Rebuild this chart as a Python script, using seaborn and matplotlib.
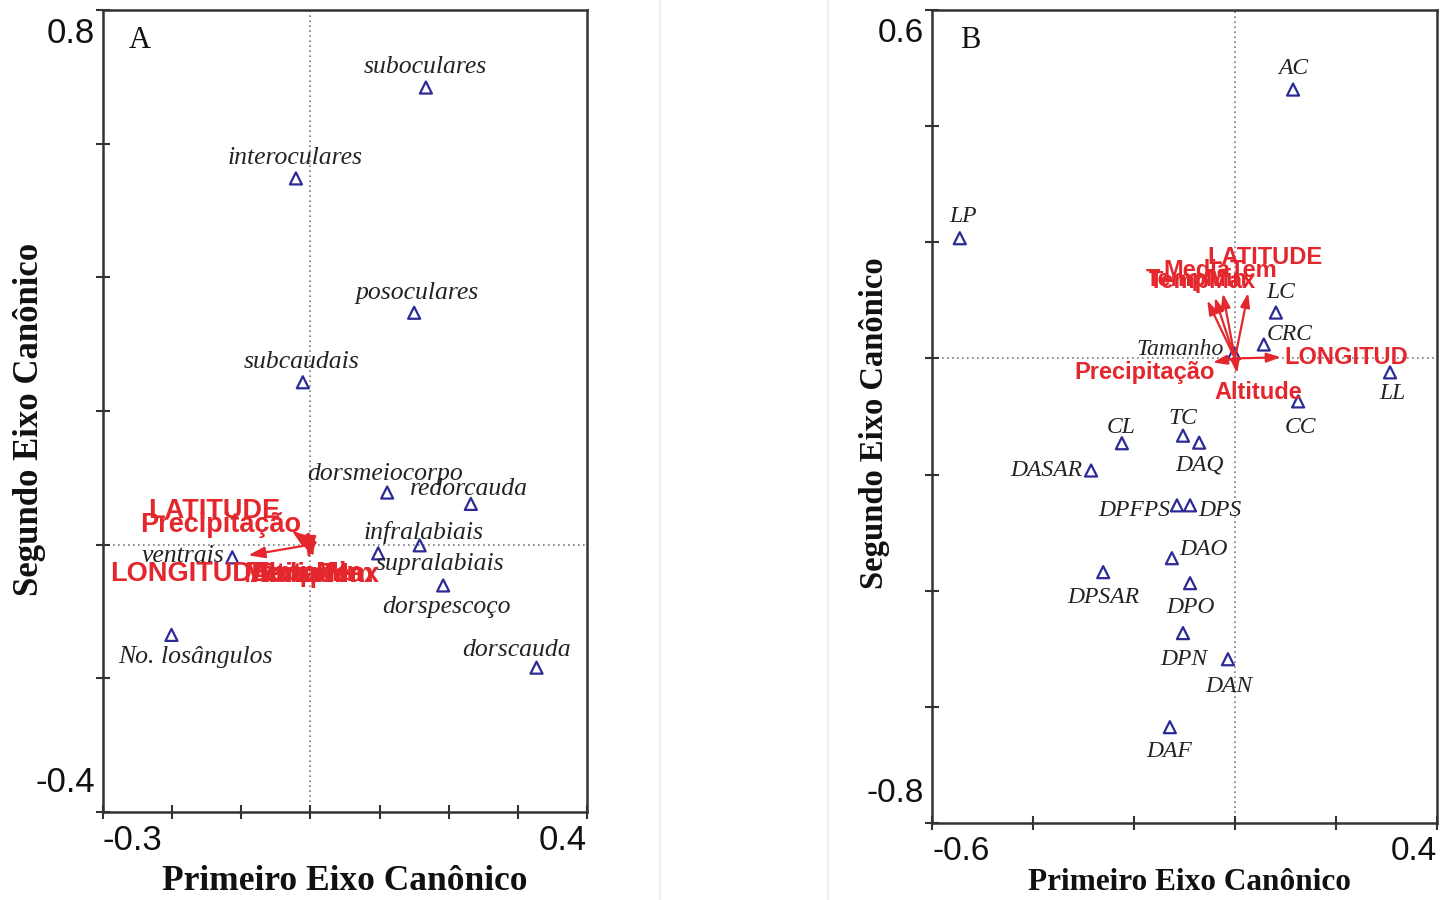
import numpy as np
import pandas as pd
import matplotlib
matplotlib.use("Agg")
import matplotlib.pyplot as plt
from matplotlib.lines import Line2D
import seaborn as sns

# ---------------- Panel A: scale counts ----------------
sp_a_names = ["suboculares", "interoculares", "posoculares", "subcaudais",
              "dorsmeiocorpo", "redorcauda", "infralabiais", "supralabiais",
              "dorspescoço", "ventrais", "No. losângulos", "dorscauda"]
sp_a_ax1 = [0.167, -0.021, 0.150, -0.011, 0.111, 0.232, 0.158, 0.098,
            0.192, -0.113, -0.201, 0.327]
sp_a_ax2 = [0.684, 0.548, 0.347, 0.243, 0.078, 0.061, -0.001, -0.013,
            -0.061, -0.019, -0.135, -0.184]

env_a_names = ["LATITUDE", "Precipitação", "LONGITUDE", "Altitude",
               "MediaTem", "TempMin", "TempMax"]
env_a_ax1 = [-0.027, -0.022, -0.090, 0.004, -0.003, 0.000, 0.006]
env_a_ax2 = [0.021, 0.016, -0.016, -0.018, -0.021, -0.013, -0.009]

# ---------------- Panel B: morphometric measures ----------------
sp_b_names = ["AC", "LP", "LC", "CRC", "Tamanho", "LL", "CC", "TC", "CL",
              "DAQ", "DASAR", "DPFPS", "DPS", "DAO", "DPSAR", "DPO", "DPN",
              "DAN", "DAF"]
sp_b_ax1 = [0.115, -0.545, 0.081, 0.057, -0.002, 0.307, 0.125, -0.103,
            -0.224, -0.071, -0.285, -0.115, -0.089, -0.125, -0.261, -0.089,
            -0.103, -0.014, -0.129]
sp_b_ax2 = [0.463, 0.207, 0.079, 0.024, 0.009, -0.024, -0.074, -0.133,
            -0.146, -0.145, -0.193, -0.253, -0.253, -0.344, -0.368, -0.387,
            -0.473, -0.518, -0.635]

env_b_names = ["LATITUDE", "MediaTem", "TempMax", "TempMin", "LONGITUD",
               "Precipitação", "Altitude"]
env_b_ax1 = [0.026, -0.024, -0.040, -0.055, 0.091, -0.044, 0.004]
env_b_ax2 = [0.113, 0.112, 0.105, 0.100, 0.002, -0.007, -0.026]

# Axis ranges and tick steps
a_xlim, a_ylim, a_xstep, a_ystep = (-0.3, 0.4), (-0.4, 0.8), 0.1, 0.2
b_xlim, b_ylim, b_xstep, b_ystep = (-0.6, 0.4), (-0.8, 0.6), 0.2, 0.2

# Label placement (pixel offsets from each point / arrow tip: right, up)
sp_a_off = [(-1, 21), (-1, 20), (3, 20), (-1, 20), (-2, 19), (-2, 15),
            (4, 13), (62, -11), (3, -22), (-49, 1), (24, -22), (-20, 18)]
env_a_off = [(-78, 20), (-75, 9), (-58, -19), (-13, -18), (0, -16),
             (-5, -21), (4, -24)]
sp_b_off = [(0, 21), (3, 22), (5, 20), (26, 10), (-54, 4), (2, -21),
            (2, -26), (0, 17), (-1, 16), (0, -22), (-45, 0), (-43, -5),
            (30, -5), (32, 9), (0, -25), (0, -24), (1, -26), (1, -27),
            (-1, -24)]
env_b_off = [(17, 35), (-3, 23), (-12, 16), (-11, 21), (65, 0), (-68, -10),
             (21, -19)]

RED = "#e3272d"
NAVY = "#2c2a94"
INK = "#232323"
SERIF = ["Liberation Serif", "DejaVu Serif"]
SANS = ["Liberation Sans", "DejaVu Sans"]
PX = 72 / 100  # pixels -> points at dpi 100

sns.set_theme(style="white")
plt.rcParams["font.family"] = SANS

fig = plt.figure(figsize=(14.4, 9), dpi=100)
fig.patch.set_facecolor("white")

# faint borders between the two panels
for xf in (660 / 1440, 828 / 1440):
    fig.add_artist(Line2D([xf, xf], [0, 1], transform=fig.transFigure,
                          color="#ededed", lw=1.2))

axA = fig.add_axes([103 / 1440, 88 / 900, 484 / 1440, 802 / 900])
axB = fig.add_axes([932 / 1440, 77 / 900, 505 / 1440, 813 / 900])


def draw_panel(ax, letter, sp_names, sp_x, sp_y, sp_off, env_names, env_x,
               env_y, env_off, xlim, ylim, xstep, ystep, sp_size, env_size,
               tick_size, xlab_size, ylab_size, xlab_pos, ylab_pos, head):
    ax.set_xlim(*xlim)
    ax.set_ylim(*ylim)

    # reference lines through the origin
    ax.axhline(0, color="#7a7a7a", lw=1.2, ls=(0, (1, 2)), zorder=0)
    ax.axvline(0, color="#7a7a7a", lw=1.2, ls=(0, (1, 2)), zorder=0)

    # species scores as open triangles
    df = pd.DataFrame({"ax1": sp_x, "ax2": sp_y, "name": sp_names})
    sns.scatterplot(data=df, x="ax1", y="ax2", marker="^", s=75, ax=ax,
                    legend=False, zorder=3)
    coll = ax.collections[-1]
    coll.set_facecolor("none")
    coll.set_edgecolor(NAVY)
    coll.set_linewidth(1.6)

    for name, x, y, (dx, dy) in zip(sp_names, sp_x, sp_y, sp_off):
        ax.annotate(name, (x, y), xytext=(dx * PX, dy * PX),
                    textcoords="offset points", ha="center", va="center",
                    fontsize=sp_size, fontstyle="italic", family=SERIF,
                    color=INK, zorder=4)

    # environmental vectors
    for name, x, y, (dx, dy) in zip(env_names, env_x, env_y, env_off):
        ax.annotate("", xy=(x, y), xytext=(0, 0),
                    arrowprops=dict(arrowstyle=f"-|>,head_length={head[0]},head_width={head[1]}",
                                    color=RED, lw=1.6, shrinkA=0, shrinkB=0,
                                    mutation_scale=20), zorder=5)
        ax.annotate(name, (x, y), xytext=(dx * PX, dy * PX),
                    textcoords="offset points", ha="center", va="center",
                    fontsize=env_size, fontweight="bold", family=SANS,
                    color=RED, zorder=6)

    # frame and ticks
    xt = np.arange(xlim[0], xlim[1] + xstep / 2, xstep)
    yt = np.arange(ylim[0], ylim[1] + ystep / 2, ystep)
    ax.set_xticks(xt)
    ax.set_yticks(yt)
    ax.set_xticklabels([])
    ax.set_yticklabels([])
    ax.tick_params(direction="inout", length=10, width=1.5, color="#333333",
                   bottom=True, left=True)
    for sp in ax.spines.values():
        sp.set_visible(True)
        sp.set_color("#333333")
        sp.set_linewidth(1.8)
    ax.set_xlabel("")
    ax.set_ylabel("")

    # range labels at the ends of each axis
    w, h = ax.bbox.width, ax.bbox.height
    tk = dict(fontsize=tick_size, color="#111111", family=SANS,
              transform=ax.transAxes)
    ax.text(-8 / w, 1 - 23 / h, f"{ylim[1]:g}", ha="right", va="center", **tk)
    ax.text(-8 / w, 29 / h, f"{ylim[0]:g}", ha="right", va="center", **tk)
    ax.text(0, -29 / h, f"{xlim[0]:g}", ha="left", va="center", **tk)
    ax.text(1, -29 / h, f"{xlim[1]:g}", ha="right", va="center", **tk)

    ax.text(xlab_pos[0], xlab_pos[1], "Primeiro Eixo Canônico",
            transform=ax.transAxes, ha="center", va="center",
            fontsize=xlab_size, fontweight="bold", family=SERIF,
            color="#111111")
    ax.text(ylab_pos[0], ylab_pos[1], "Segundo Eixo Canônico",
            transform=ax.transAxes, ha="center", va="center", rotation=90,
            fontsize=ylab_size, fontweight="bold", family=SERIF,
            color="#111111")
    ax.text(0.075, 1 - 30 / h, letter, transform=ax.transAxes, ha="center",
            va="center", fontsize=22, family=SERIF, color="#111111")


draw_panel(axA, "A", sp_a_names, sp_a_ax1, sp_a_ax2, sp_a_off,
           env_a_names, env_a_ax1, env_a_ax2, env_a_off,
           a_xlim, a_ylim, a_xstep, a_ystep, sp_size=18.5, env_size=19.5,
           tick_size=25, xlab_size=25.5, ylab_size=25,
           xlab_pos=(0.5, -0.087), ylab_pos=(-0.151, 0.489),
           head=(0.5, 0.17))
draw_panel(axB, "B", sp_b_names, sp_b_ax1, sp_b_ax2, sp_b_off,
           env_b_names, env_b_ax1, env_b_ax2, env_b_off,
           b_xlim, b_ylim, b_xstep, b_ystep, sp_size=17, env_size=17,
           tick_size=24, xlab_size=22.5, ylab_size=23.5,
           xlab_pos=(0.509, -0.0726), ylab_pos=(-0.113, 0.492),
           head=(0.42, 0.14))

fig.savefig("out.png", dpi=100, facecolor="white")
